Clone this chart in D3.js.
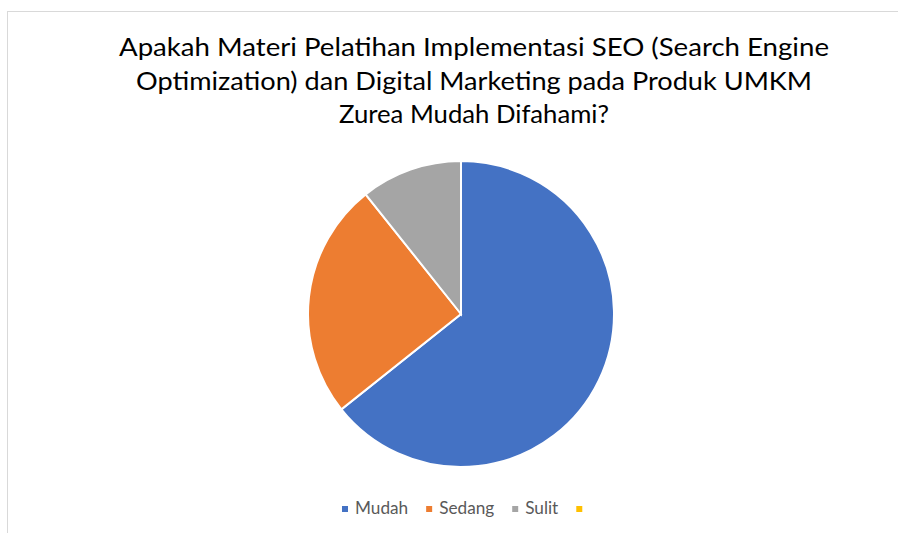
<!DOCTYPE html>
<html>
<head>
<meta charset="utf-8">
<script src="https://cdn.jsdelivr.net/npm/d3@7"></script>
<style>
  body { margin: 0; background: #fff; }
  text { font-family: Lato, "Open Sans", sans-serif; }
</style>
</head>
<body>
<div id="chart"></div>
<script>
const categories = ['Mudah', 'Sedang', 'Sulit', ''];
const values = [18, 7, 3, 0];
const colors = ['#4472C4', '#ED7D31', '#A5A5A5', '#FFC000'];
const titleLines = [
  'Apakah Materi Pelatihan Implementasi SEO (Search Engine',
  'Optimization) dan Digital Marketing pada Produk UMKM',
  'Zurea Mudah Difahami?'
];

const w = 898, h = 533;
const cx = 461, cy = 314, r = 153;

const svg = d3.select('#chart').append('svg')
  .attr('width', w)
  .attr('height', h);

// chart area border (only top & left edges visible in the frame)
svg.append('rect')
  .attr('x', 7.5).attr('y', 11.5)
  .attr('width', 1000).attr('height', 1000)
  .attr('fill', 'none')
  .attr('stroke', '#d9d9d9');

// title
const title = svg.append('g');
title.selectAll('text').data(titleLines).enter()
  .append('text')
  .attr('x', 474)
  .attr('y', (d, i) => 56 + i * 33.5)
  .attr('text-anchor', 'middle')
  .attr('font-size', 25.5)
  .attr('fill', '#000')
  .text(d => d)
  .each(function (d, i) {
    // squeeze to the narrow Calibri-like widths of the original
    const target = [710, 676, 270][i];
    this.setAttribute('textLength', target);
    this.setAttribute('lengthAdjust', 'spacingAndGlyphs');
  });

// pie
const pie = d3.pie().sort(null).value(d => d.value);
const arc = d3.arc().innerRadius(0).outerRadius(r);
const data = categories.map((c, i) => ({ name: c, value: values[i], color: colors[i] }));

svg.append('g')
  .attr('transform', `translate(${cx},${cy})`)
  .selectAll('path')
  .data(pie(data).filter(d => d.data.value > 0))
  .enter()
  .append('path')
  .attr('d', arc)
  .attr('fill', d => d.data.color)
  .attr('stroke', '#fff')
  .attr('stroke-width', 2);

// legend
const legend = svg.append('g');
let lx = 342;
const ly = 514;
data.forEach((d, i) => {
  legend.append('rect')
    .attr('x', lx).attr('y', ly - 8)
    .attr('width', 6).attr('height', 6)
    .attr('fill', d.color);
  const t = legend.append('text')
    .attr('x', lx + 13)
    .attr('y', ly)
    .attr('font-size', 17.2)
    .attr('fill', '#595959')
    .text(d.name);
  const tw = d.name ? t.node().getComputedTextLength() : 0;
  lx += 13 + tw + 18;
});
</script>
</body>
</html>
